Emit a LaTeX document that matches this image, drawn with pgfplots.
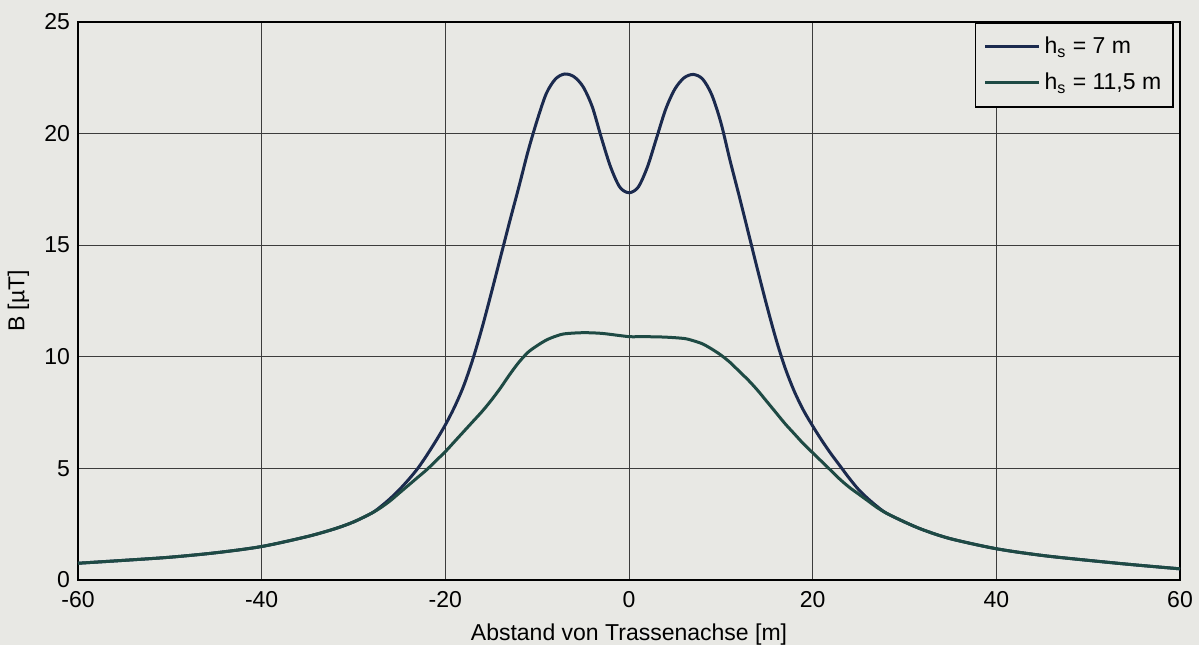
\documentclass[border=0pt]{standalone}
\usepackage{fontspec}
\setmainfont{Liberation Sans}
\usepackage{pgfplots}
\pgfplotsset{compat=1.18}
\usetikzlibrary{backgrounds,calc}

\definecolor{paper}{HTML}{E8E8E4}
\definecolor{navy}{HTML}{1B2A4E}
\definecolor{teal}{HTML}{1E4A44}
\definecolor{gridc}{HTML}{3C3C3C}

\begin{document}
\fontsize{11.5pt}{13pt}\selectfont
\begin{tikzpicture}
\begin{axis}[
    name=ax,
    at={(0,0)}, anchor=south west,
    scale only axis,
    width=551pt, height=279pt,
    xmin=-60, xmax=60, ymin=0, ymax=25,
    xtick={-60,-40,...,60},
    ytick={0,5,...,25},
    grid=major,
    major grid style={gridc, line width=0.5pt},
    axis line style={black, line width=0.8pt},
    major tick length=0pt,
    /pgf/number format/assume math mode=true,
    tick label style={font=\fontsize{11.5pt}{13pt}\selectfont},
    xticklabel style={yshift=-1.5pt},
    xlabel={Abstand von Trassenachse [m]},
    ylabel={B [µT]},
    xlabel style={at={(axis description cs:0.5,-0.098)}, anchor=center},
    ylabel style={at={(axis description cs:-0.054,0.5)}, anchor=center},
    legend cell align=left,
    legend style={at={(axis description cs:1,1)}, anchor=north east,
        xshift=-3pt, draw=black, line width=0.8pt, fill=paper,
        inner xsep=4pt, inner ysep=5pt, row sep=4pt,
        font=\fontsize{11.5pt}{13pt}\selectfont},
    legend image code/.code={\draw[#1] (0pt,0pt) -- (27pt,0pt);},
    ]
% h_s = 7 m
\addplot[navy, line width=1.5pt, smooth] coordinates {
    (-60,0.75) (-55,0.88) (-50,1.02) (-45,1.22) (-40,1.5) (-35,1.95)
    (-32,2.3) (-30,2.6) (-28,3.0) (-27,3.3) (-26,3.65) (-25,4.05)
    (-24,4.5) (-23,5.0) (-22,5.6) (-21,6.25) (-20,6.95) (-19,7.75)
    (-18,8.7) (-17,9.9) (-16,11.3) (-15,12.85) (-14,14.45) (-13,16.05)
    (-12,17.6) (-11,19.2) (-10,20.6) (-9,21.8) (-8,22.45) (-7,22.67)
    (-6,22.55) (-5,22.1) (-4,21.2) (-3,19.8) (-2,18.5) (-1,17.6)
    (0,17.35) (1,17.6) (2,18.5) (3,19.8) (4,21.1) (5,22.0)
    (6,22.5) (7,22.65) (8,22.45) (9,21.75) (10,20.5) (11,18.8)
    (12,17.2) (13,15.55) (14,13.9) (15,12.3) (16,10.8) (17,9.5)
    (18,8.45) (19,7.6) (20,6.9) (21,6.25) (22,5.65) (23,5.1)
    (24,4.55) (25,4.05) (26,3.65) (27,3.3) (28,3.0) (30,2.6)
    (32,2.25) (35,1.85) (40,1.4) (45,1.1) (50,0.88) (55,0.68) (60,0.5)
};
\addlegendentry{h\textsubscript{s} = 7 m}
% h_s = 11,5 m
\addplot[teal, line width=1.5pt, smooth] coordinates {
    (-60,0.75) (-55,0.88) (-50,1.02) (-45,1.22) (-40,1.5) (-35,1.95)
    (-32,2.3) (-30,2.6) (-28,3.0) (-27,3.25) (-26,3.55) (-25,3.9)
    (-24,4.25) (-23,4.6) (-22,4.95) (-21,5.35) (-20,5.75) (-19,6.2)
    (-18,6.65) (-17,7.1) (-16,7.55) (-15,8.05) (-14,8.6) (-13,9.2)
    (-12,9.75) (-11,10.2) (-10,10.5) (-9,10.75) (-8,10.92) (-7,11.03)
    (-5,11.08) (-3,11.05) (-1,10.95) (0,10.9) (2,10.9) (4,10.88)
    (6,10.82) (7,10.72) (8,10.58) (9,10.35) (10,10.08) (11,9.75)
    (12,9.35) (13,8.95) (14,8.5) (15,8.0) (16,7.5) (17,7.0)
    (18,6.55) (19,6.1) (20,5.7) (21,5.3) (22,4.9) (23,4.5)
    (24,4.15) (25,3.85) (26,3.55) (27,3.25) (28,3.0) (30,2.6)
    (32,2.25) (35,1.85) (40,1.4) (45,1.1) (50,0.88) (55,0.68) (60,0.5)
};
\addlegendentry{h\textsubscript{s} = 11,5 m}
\end{axis}
\pgfresetboundingbox
\begin{scope}[on background layer]
\fill[paper] ($(ax.south west)+(-39pt,-32.5pt)$) rectangle ($(ax.north east)+(9.5pt,11pt)$);
\end{scope}
\end{tikzpicture}
\end{document}
